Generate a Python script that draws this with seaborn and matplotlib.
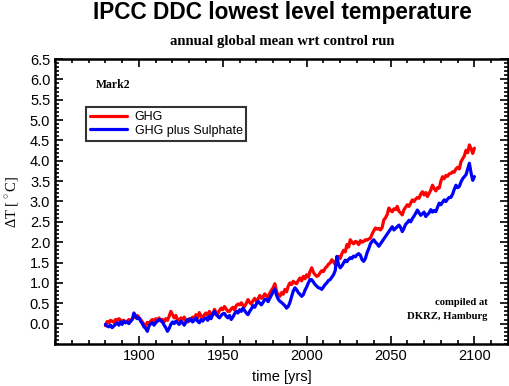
import numpy as np
import pandas as pd
import matplotlib
matplotlib.use("Agg")
import matplotlib.pyplot as plt
from matplotlib.ticker import MultipleLocator
import seaborn as sns

years = list(range(1880, 2101))

ghg = [
    -0.05, 0.05, 0.02, 0.08, 0.06, 0.03, 0.10, 0.07, 0.12, 0.09,
    0.04, 0.08, 0.02, 0.06, 0.10, 0.05, 0.12, 0.18, 0.14, 0.20,
    0.15, 0.10, 0.04, -0.02, -0.05, 0.03, 0.00, 0.06, 0.10, 0.05,
    0.12, 0.08, 0.14, 0.06, 0.10, 0.04, 0.12, 0.08, 0.18, 0.30,
    0.22, 0.14, 0.20, 0.10, 0.08, 0.14, 0.10, 0.16, 0.06, 0.04,
    0.12, 0.08, 0.16, 0.12, 0.22, 0.14, 0.27, 0.18, 0.14, 0.22,
    0.26, 0.20, 0.30, 0.24, 0.20, 0.35, 0.28, 0.24, 0.32, 0.38,
    0.34, 0.42, 0.36, 0.30, 0.30, 0.36, 0.40, 0.33, 0.44, 0.48,
    0.46, 0.51, 0.45, 0.42, 0.50, 0.59, 0.52, 0.48, 0.56, 0.62,
    0.55, 0.60, 0.69, 0.62, 0.66, 0.73, 0.68, 0.64, 0.75, 0.82,
    0.88, 0.98, 0.80, 0.69, 0.67, 0.76, 0.72, 0.84, 0.78, 0.92,
    1.00, 0.96, 1.04, 1.00, 0.98, 1.06, 1.12, 1.05, 1.16, 1.10,
    1.20, 1.14, 1.28, 1.37, 1.26, 1.20, 1.16, 1.18, 1.25, 1.30,
    1.28, 1.36, 1.40, 1.46, 1.49, 1.57, 1.52, 1.45, 1.58, 1.65,
    1.60, 1.72, 1.80, 1.76, 1.94, 1.88, 2.06, 2.00, 1.96, 2.02,
    2.00, 1.94, 2.04, 2.00, 2.02, 2.06, 2.05, 2.08, 2.10, 2.20,
    2.28, 2.35, 2.32, 2.34, 2.30, 2.36, 2.55, 2.60, 2.68, 2.84,
    2.78, 2.75, 2.82, 2.80, 2.88, 2.76, 2.72, 2.67, 2.80, 2.86,
    2.92, 2.88, 2.96, 3.04, 3.00, 3.06, 3.10, 3.08, 3.18, 3.24,
    3.16, 3.22, 3.12, 3.20, 3.28, 3.40, 3.32, 3.26, 3.34, 3.33,
    3.50, 3.61, 3.56, 3.64, 3.62, 3.68, 3.69, 3.73, 3.72, 3.80,
    3.84, 3.80, 3.98, 4.05, 4.12, 4.26, 4.20, 4.39, 4.30, 4.18,
    4.31,
]

ghg_sul = [
    -0.02, -0.06, -0.08, -0.04, -0.10, -0.06, -0.02, 0.02, -0.04, 0.04,
    -0.02, 0.06, 0.02, 0.04, 0.00, 0.06, 0.10, 0.26, 0.18, 0.12,
    0.14, 0.06, 0.00, -0.08, -0.12, -0.19, -0.06, 0.00, 0.02, -0.04,
    0.02, 0.06, 0.10, 0.08, 0.04, -0.04, -0.10, -0.19, -0.12, -0.02,
    0.04, 0.00, 0.06, 0.02, -0.02, 0.06, 0.02, -0.04, 0.04, 0.10,
    0.06, 0.12, 0.04, 0.08, 0.14, 0.06, 0.02, 0.10, 0.06, 0.12,
    0.14, 0.08, 0.18, 0.12, 0.24, 0.30, 0.22, 0.18, 0.14, 0.20,
    0.24, 0.25, 0.18, 0.14, 0.20, 0.10, 0.16, 0.24, 0.30, 0.26,
    0.34, 0.30, 0.38, 0.32, 0.26, 0.22, 0.30, 0.36, 0.44, 0.40,
    0.48, 0.55, 0.50, 0.46, 0.52, 0.60, 0.59, 0.54, 0.62, 0.70,
    0.78, 0.85, 0.70, 0.60, 0.55, 0.52, 0.48, 0.44, 0.38, 0.42,
    0.52, 0.66, 0.80, 0.88, 0.83, 0.76, 0.72, 0.67, 0.71, 0.82,
    0.90, 1.00, 1.08, 1.08, 1.02, 0.96, 0.92, 0.88, 0.87, 0.84,
    0.90, 0.96, 1.00, 1.06, 1.08, 1.14, 1.20, 1.30, 1.65, 1.45,
    1.37, 1.42, 1.49, 1.56, 1.52, 1.58, 1.62, 1.60, 1.66, 1.64,
    1.69, 1.72, 1.68, 1.57, 1.53, 1.60, 1.74, 1.84, 1.96, 2.02,
    2.06, 2.00, 1.96, 1.90, 1.96, 2.02, 2.08, 2.14, 2.20, 2.26,
    2.32, 2.38, 2.30, 2.34, 2.38, 2.42, 2.36, 2.26, 2.34, 2.44,
    2.48, 2.54, 2.50, 2.58, 2.64, 2.71, 2.79, 2.72, 2.66, 2.70,
    2.74, 2.63, 2.68, 2.72, 2.80, 2.74, 2.78, 2.75, 2.86, 2.96,
    2.92, 2.98, 3.04, 3.00, 3.06, 3.10, 3.10, 3.18, 3.30, 3.40,
    3.34, 3.37, 3.48, 3.56, 3.61, 3.66, 3.80, 3.94, 3.70, 3.52,
    3.61,
]

series_names = ["GHG", "GHG plus Sulphate"]
series_colors = ["#ff0000", "#0000ff"]

df = pd.concat([
    pd.DataFrame({"year": years, "dT": ghg, "run": series_names[0]}),
    pd.DataFrame({"year": years, "dT": ghg_sul, "run": series_names[1]}),
])

sns.set_style("ticks")
plt.rcParams["font.family"] = ["Liberation Sans", "DejaVu Sans"]
plt.rcParams["text.color"] = "black"
plt.rcParams["axes.labelcolor"] = "black"
plt.rcParams["xtick.color"] = "black"
plt.rcParams["ytick.color"] = "black"
plt.rcParams["mathtext.fontset"] = "custom"
plt.rcParams["mathtext.rm"] = "Liberation Serif"

serif = ["Liberation Serif", "DejaVu Serif"]

fig = plt.figure(figsize=(5.1, 3.86), dpi=100)
ax = fig.add_axes([0.108, 0.109, 0.888, 0.738])

sns.lineplot(data=df, x="year", y="dT", hue="run", palette=series_colors,
             hue_order=series_names, linewidth=2.3, ax=ax)

ax.set_xlim(1850, 2120)
ax.set_ylim(-0.5, 6.5)
ax.set_xticks([1900, 1950, 2000, 2050, 2100])
ax.xaxis.set_minor_locator(MultipleLocator(10))
ax.set_yticks(np.arange(0, 6.51, 0.5))
ax.set_yticklabels(["%.1f" % v for v in np.arange(0, 6.51, 0.5)])
ax.yaxis.set_minor_locator(MultipleLocator(0.1))
ax.tick_params(which="both", direction="in", top=True, right=True,
               labelsize=10.5, color="black", width=1.2)
ax.tick_params(which="major", length=6)
ax.tick_params(which="minor", length=3)
for s in ax.spines.values():
    s.set_linewidth(1.8)
    s.set_color("black")

ax.set_xlabel("time [yrs]", fontsize=10.5, labelpad=5)
ax.set_ylabel("\u0394T [$^\\circ$C]", fontsize=10.5, labelpad=6, family=serif)

leg = ax.legend(loc="upper left", bbox_to_anchor=(0.068, 0.831),
                fontsize=9, frameon=True, fancybox=False, borderpad=0.3,
                handlelength=3.0, handletextpad=0.6, labelspacing=0.15,
                borderaxespad=0)
leg.get_frame().set_edgecolor("black")
leg.get_frame().set_linewidth(1.5)
for line in leg.get_lines():
    line.set_linewidth(2.3)

ax.text(0.09, 0.9, "Mark2", transform=ax.transAxes, fontsize=8.5,
        fontweight="bold", family=serif)
ax.text(0.955, 0.12, "compiled at\nDKRZ, Hamburg", transform=ax.transAxes,
        fontsize=7.7, fontweight="bold", family=serif, ha="right",
        va="center", linespacing=1.75)

fig.text(0.553, 0.968, "IPCC DDC lowest level temperature", ha="center",
         va="center", fontsize=16.3, fontweight="bold")
fig.text(0.553, 0.893, "annual global mean wrt control run", ha="center",
         va="center", fontsize=10.6, fontweight="bold", family=serif)

fig.savefig("out.png", dpi=100)
